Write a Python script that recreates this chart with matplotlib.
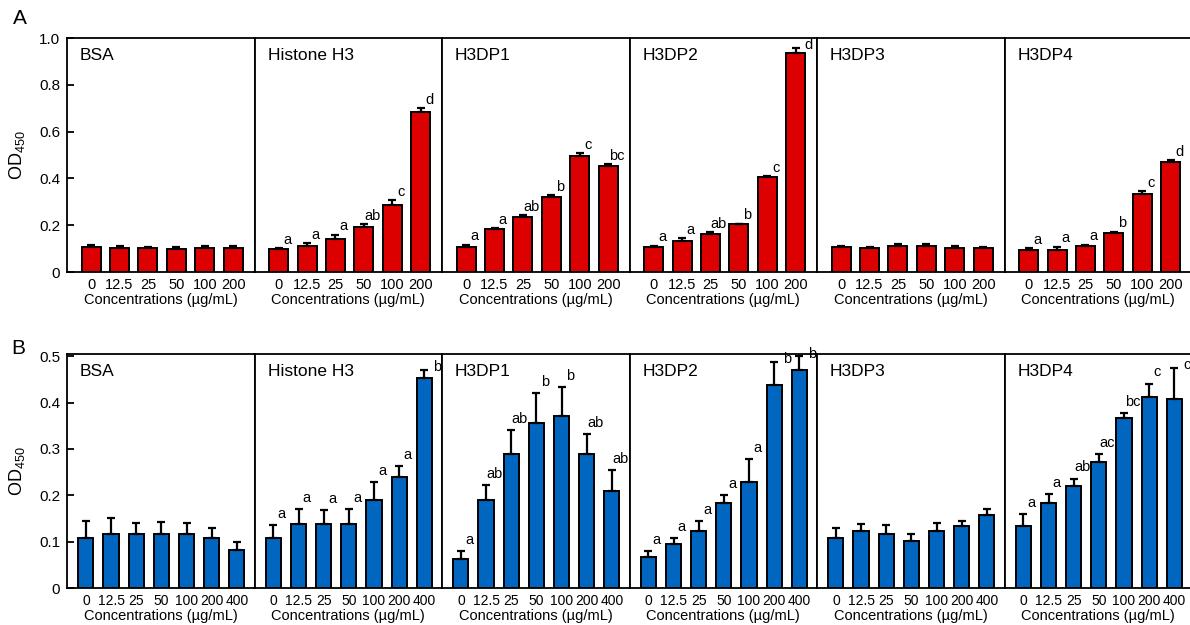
import matplotlib.pyplot as plt
import numpy as np

plt.rcParams['font.family'] = ['Liberation Sans', 'DejaVu Sans']
plt.rcParams['mathtext.fontset'] = 'custom'
plt.rcParams['mathtext.rm'] = 'Liberation Sans'

proteins = ["BSA", "Histone H3", "H3DP1", "H3DP2", "H3DP3", "H3DP4"]

# panel A: 6 concentrations
conc_a = ["0", "12.5", "25", "50", "100", "200"]
od_a = [
    [0.105, 0.102, 0.102, 0.098, 0.102, 0.102],
    [0.097, 0.113, 0.140, 0.192, 0.285, 0.683],
    [0.105, 0.183, 0.235, 0.322, 0.494, 0.455],
    [0.105, 0.131, 0.161, 0.203, 0.404, 0.937],
    [0.105, 0.102, 0.111, 0.111, 0.102, 0.102],
    [0.092, 0.092, 0.111, 0.165, 0.335, 0.472],
]
err_a = [
    [0.011, 0.008, 0.006, 0.010, 0.008, 0.008],
    [0.004, 0.010, 0.020, 0.013, 0.023, 0.018],
    [0.011, 0.004, 0.007, 0.006, 0.013, 0.007],
    [0.007, 0.013, 0.010, 0.004, 0.006, 0.022],
    [0.006, 0.006, 0.008, 0.009, 0.010, 0.006],
    [0.009, 0.016, 0.006, 0.007, 0.010, 0.007],
]
letters_a = [
    ["", "", "", "", "", ""],
    ["a", "a", "a", "ab", "c", "d"],
    ["a", "a", "ab", "b", "c", "bc"],
    ["a", "a", "ab", "b", "c", "d"],
    ["", "", "", "", "", ""],
    ["a", "a", "a", "b", "c", "d"],
]

# panel B: 7 concentrations
conc_b = ["0", "12.5", "25", "50", "100", "200", "400"]
od_b = [
    [0.107, 0.117, 0.117, 0.117, 0.117, 0.107, 0.082],
    [0.107, 0.138, 0.138, 0.138, 0.190, 0.239, 0.454],
    [0.062, 0.190, 0.290, 0.357, 0.372, 0.290, 0.209],
    [0.067, 0.096, 0.122, 0.183, 0.229, 0.438, 0.470],
    [0.107, 0.122, 0.117, 0.102, 0.122, 0.133, 0.158],
    [0.133, 0.183, 0.220, 0.271, 0.367, 0.413, 0.408],
]
err_b = [
    [0.037, 0.033, 0.023, 0.026, 0.024, 0.022, 0.017],
    [0.028, 0.032, 0.030, 0.032, 0.038, 0.024, 0.017],
    [0.017, 0.033, 0.051, 0.063, 0.061, 0.043, 0.046],
    [0.012, 0.011, 0.022, 0.017, 0.050, 0.050, 0.030],
    [0.022, 0.017, 0.020, 0.015, 0.019, 0.012, 0.012],
    [0.026, 0.020, 0.016, 0.018, 0.011, 0.028, 0.067],
]
letters_b = [
    ["", "", "", "", "", "", ""],
    ["a", "a", "a", "a", "a", "a", "b"],
    ["a", "ab", "ab", "b", "b", "ab", "ab"],
    ["a", "a", "a", "a", "a", "b", "b"],
    ["", "", "", "", "", "", ""],
    ["a", "a", "ab", "ac", "bc", "c", "c"],
]

fig = plt.figure(figsize=(11.9, 6.25), dpi=100)

W, H = 1190.0, 625.0
left = 67 / W
pw = 187.5 / W
ph = 234 / H


def draw_row(bottom, conc, od, err, letters, color, ymax, yticks, bw, xlim, dy, tsize):
    n = len(conc)
    x = np.arange(n)
    for i, name in enumerate(proteins):
        ax = fig.add_axes([left + i * pw, bottom, pw, ph])
        ax.bar(x, od[i], width=bw, color=color, edgecolor='black', linewidth=1.4, zorder=2)
        ax.errorbar(x, od[i], yerr=[np.zeros(n), err[i]], fmt='none', ecolor='black',
                    elinewidth=1.6, capsize=3.2, capthick=1.6, zorder=3)
        for j, lt in enumerate(letters[i]):
            if not lt:
                continue
            top = od[i][j] + err[i][j]
            if top > 0.9 * ymax:
                ax.annotate(lt, (x[j], top), xytext=(9, 2), textcoords='offset points',
                            ha='center', va='center', fontsize=10.5)
            else:
                ax.annotate(lt, (x[j], top), xytext=(6, dy), textcoords='offset points',
                            ha='center', va='bottom', fontsize=10.5)
        ax.set_xlim(*xlim)
        ax.set_ylim(0, ymax)
        ax.set_xticks(x)
        ax.set_xticklabels(conc, fontsize=tsize)
        ax.tick_params(axis='x', length=0, pad=4)
        ax.set_xlabel("Concentrations (µg/mL)", fontsize=10.5, labelpad=1)
        for s in ax.spines.values():
            s.set_linewidth(1.3)
        ax.text(13 / 187.5, 1 - 18 / 234, name, transform=ax.transAxes,
                fontsize=12.5, ha='left', va='center')
        if i == 0:
            ax.set_yticks(yticks)
            ax.set_yticklabels(["0"] + ["%.1f" % v for v in yticks[1:]], fontsize=11)
            ax.tick_params(axis='y', direction='in', length=5, width=1.3, pad=5)
            ax.set_ylabel(r"OD$_{\mathrm{450}}$", fontsize=13)
            ax.yaxis.set_label_coords(-40 / 187.5, 0.5)
        else:
            ax.set_yticks([])


draw_row(1 - 272 / H, conc_a, od_a, err_a, letters_a, '#dd0000', 1.0,
         [0, 0.2, 0.4, 0.6, 0.8, 1.0], 0.67, (-0.85, 5.75), 1, 10.5)
draw_row(1 - 588 / H, conc_b, od_b, err_b, letters_b, '#0066c0', 0.505,
         [0, 0.1, 0.2, 0.3, 0.4, 0.5], 0.6, (-0.75, 6.7), 3, 10)

fig.text(20 / W, 1 - 18 / H, "A", fontsize=15, ha='center', va='center')
fig.text(18 / W, 1 - 348 / H, "B", fontsize=15, ha='center', va='center')

fig.savefig("out.png", dpi=100)
